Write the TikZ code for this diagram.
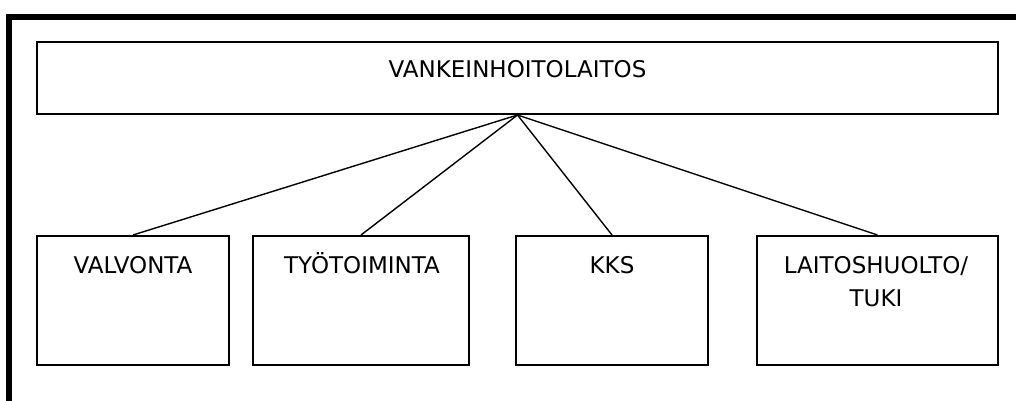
\documentclass[tikz,border=0pt]{standalone}
\usepackage{fontspec}
\setmainfont{DejaVu Sans}
\usepackage{tikz}

\begin{document}
\begin{tikzpicture}[x=0.5pt, y=-0.5pt,
  box/.style={draw, line width=1pt, inner sep=0pt, minimum height=64.5pt},
  txt/.style={anchor=base, inner sep=0pt, align=center, font=\fontsize{11.5}{16.5}\selectfont},
  link/.style={line width=0.7pt}]
\useasboundingbox (0,0) rectangle (1016,401);
\draw[line width=3pt] (9,401) |- (1016,17);
\node[box, minimum width=480.5pt, minimum height=36pt] (vhl) at (517.5,78) {};
\node[txt] (vhltext) at (517.5,78) {VANKEINHOITOLAITOS};
\node[box, minimum width=96pt] (valvonta) at (133,300.5) {};
\node[box, minimum width=108pt] (tyo) at (361,300.5) {};
\node[box, minimum width=96pt] (kks) at (612,300.5) {};
\node[box, minimum width=120.5pt] (tuki) at (877.5,300.5) {};
\node[txt] (valvontatext) at (133,273) {VALVONTA};
\node[txt] (tyotext) at (362,273) {TYÖTOIMINTA};
\node[txt] (kkstext) at (612,273) {KKS};
% base of a two-line node is its last line
\node[txt] (tukitext) at (876,306) {LAITOSHUOLTO/\\TUKI};
\draw[link] (vhl.south) -- (valvonta.north);
\draw[link] (vhl.south) -- (tyo.north);
\draw[link] (vhl.south) -- (kks.north);
\draw[link] (vhl.south) -- (tuki.north);
\end{tikzpicture}
\end{document}
